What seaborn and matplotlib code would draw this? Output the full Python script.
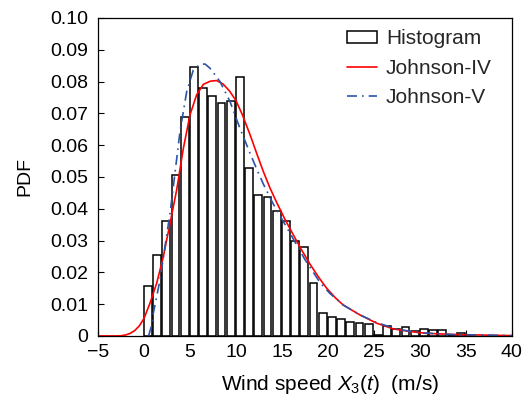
import matplotlib
matplotlib.use("Agg")
import matplotlib.pyplot as plt
import seaborn as sns
import numpy as np
import pandas as pd
from matplotlib.patches import Patch
from matplotlib.lines import Line2D

# ---- data ----
bin_left = list(range(0, 36))
bin_pdf = [0.0158, 0.0256, 0.0362, 0.0506, 0.0688, 0.0845, 0.0779, 0.0756,
           0.0732, 0.0739, 0.0814, 0.0527, 0.0443, 0.0437, 0.0393, 0.0360,
           0.0299, 0.0279, 0.0166, 0.0073, 0.0059, 0.0053, 0.0045, 0.0041,
           0.0037, 0.0004, 0.0031, 0.0021, 0.0027, 0.0017, 0.0021, 0.0019,
           0.0019, 0.0002, 0.0008, 0.0002]

j4_x = [-5.0, -3.0, -2.5, -2.0, -1.5, -1.0, -0.5, 0.0, 0.65, 1.38, 2.1, 2.83,
        3.55, 4.28, 5.0, 5.72, 6.45, 7.2, 7.9, 8.6, 9.3, 10.0, 10.7, 11.5,
        12.3, 13.0, 13.7, 14.42, 15.3, 16.23, 17.1, 18.04, 19.0, 19.86, 20.8,
        21.67, 23.48, 25.3, 27.1, 28.9, 30.7, 34.3, 40.0]
j4_y = [0.0, 0.0, 0.00005, 0.0003, 0.0008, 0.0017, 0.0032, 0.0055, 0.0103,
        0.0166, 0.0249, 0.0354, 0.0459, 0.0590, 0.0695, 0.0758, 0.0791, 0.0801,
        0.0803, 0.0792, 0.0770, 0.0740, 0.0695, 0.0635, 0.0570, 0.0515,
        0.0465, 0.0420, 0.0368, 0.0318, 0.0272, 0.0226, 0.0184, 0.0150,
        0.0120, 0.0097, 0.0066, 0.0040, 0.0022, 0.0014, 0.0008, 0.0004, 0.0001]

j5_x = [0.5, 0.8, 1.01, 1.74, 2.28, 2.83, 3.19, 3.91, 4.64, 5.36, 6.09, 6.63,
        7.17, 8.26, 9.35, 10.43, 11.52, 12.25, 12.97, 14.05, 15.14, 16.23,
        17.5, 19.13, 20.2, 21.67, 23.48, 25.3, 27.5, 30.0, 33.6, 40.0]
j5_y = [0.0, 0.0030, 0.0071, 0.0176, 0.0281, 0.0386, 0.0470, 0.0642, 0.0768,
        0.0836, 0.0854, 0.0855, 0.0842, 0.0800, 0.0737, 0.0653, 0.0575,
        0.0525, 0.0478, 0.0415, 0.0360, 0.0305, 0.0240, 0.0168, 0.0134,
        0.0097, 0.0066, 0.0042, 0.0021, 0.0010, 0.0004, 0.0001]

x_ticks = list(range(-5, 41, 5))
y_ticks = [0, 0.01, 0.02, 0.03, 0.04, 0.05, 0.06, 0.07, 0.08, 0.09, 0.10]
y_ticklabels = ["0", "0.01", "0.02", "0.03", "0.04", "0.05", "0.06", "0.07",
                "0.08", "0.09", "0.10"]

# ---- style ----
sns.set_theme(style="white")
plt.rcParams["font.family"] = ["Liberation Sans", "DejaVu Sans"]
plt.rcParams["mathtext.fontset"] = "custom"
plt.rcParams["mathtext.rm"] = "Liberation Sans"
plt.rcParams["mathtext.it"] = "Liberation Sans:italic"
plt.rcParams["axes.unicode_minus"] = True

BLUE = "#2a55a8"

fig = plt.figure(figsize=(5.31, 3.98), dpi=100)
ax = fig.add_axes([0.1846, 0.156, 0.964 - 0.1846, 0.955 - 0.156])

hist_df = pd.DataFrame({"x": [b + 0.425 for b in bin_left], "w": bin_pdf})
edges = [b - 0.075 for b in bin_left] + [bin_left[-1] + 0.925]
sns.histplot(data=hist_df, x="x", weights="w", bins=edges, stat="count",
             shrink=0.85, color="white", edgecolor="black", linewidth=1.1,
             alpha=1, ax=ax)

sns.lineplot(x=j4_x, y=j4_y, color="red", linewidth=1.2, ax=ax,
             sort=False, estimator=None)
sns.lineplot(x=j5_x, y=j5_y, color=BLUE, linewidth=1.2, ax=ax,
             sort=False, estimator=None, linestyle=(0, (6, 3, 1, 3)))

ax.set_xlim(-5, 40)
ax.set_ylim(0, 0.10)
ax.set_xticks(x_ticks)
ax.set_yticks(y_ticks)
ax.set_yticklabels(y_ticklabels)
ax.tick_params(axis="both", which="both", direction="in", length=4,
               width=0.8, labelsize=14, colors="black", top=False, right=False,
               left=True, bottom=True)
ax.tick_params(axis="x", pad=6)
ax.tick_params(axis="y", pad=7)
for s in ax.spines.values():
    s.set_color("black")
    s.set_linewidth(0.9)

ax.set_xlabel(r"Wind speed $X_3(t)$  (m/s)", fontsize=15, color="black")
ax.xaxis.set_label_coords(0.56, -0.152)
ax.xaxis.label.set_va("center")
ax.set_ylabel("PDF", fontsize=14, color="black", labelpad=12)

handles = [Patch(facecolor="white", edgecolor="black", linewidth=1.1),
           Line2D([], [], color="red", linewidth=1.2),
           Line2D([], [], color=BLUE, linewidth=1.2,
                  linestyle=(0, (6, 3, 1, 3)))]
ax.legend(handles, ["Histogram", "Johnson-IV", "Johnson-V"], loc="upper left",
          frameon=False, fontsize=15, handlelength=1.45, handleheight=0.55,
          labelspacing=0.5, borderaxespad=0.0, handletextpad=0.4,
          bbox_to_anchor=(0.582, 0.99))

fig.savefig("out.png", dpi=100)
